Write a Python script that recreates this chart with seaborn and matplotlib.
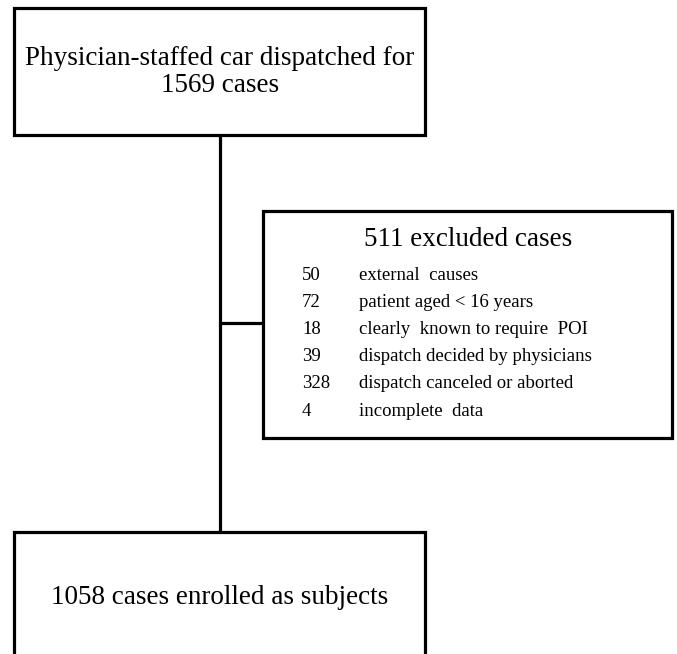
import matplotlib
matplotlib.use("Agg")
import matplotlib.pyplot as plt
import matplotlib.patches as patches
import seaborn as sns

# flowchart content
top_text = "Physician-staffed car dispatched for\n1569 cases"
excluded_title = "511 excluded cases"
excluded_counts = ["50", "72", "18", "39", "328", "4"]
excluded_reasons = ["external  causes",
                    "patient aged < 16 years",
                    "clearly  known to require  POI",
                    "dispatch decided by physicians",
                    "dispatch canceled or aborted",
                    "incomplete  data"]
bottom_text = "1058 cases enrolled as subjects"

sns.set_theme(style="white")
plt.rcParams['font.family'] = ['Liberation Serif', 'DejaVu Serif']
plt.rcParams['text.color'] = "black"

fig = plt.figure(figsize=(6.77, 6.54), dpi=100)
ax = fig.add_axes([0, 0, 1, 1])
ax.set_xlim(0, 677)
ax.set_ylim(654, 0)
ax.axis("off")

lw = 2.3

def box(x0, y0, x1, y1, bottom=True):
    if bottom:
        ax.add_patch(patches.Rectangle((x0, y0), x1 - x0, y1 - y0, fill=False,
                                       edgecolor="black", linewidth=lw))
    else:
        ax.plot([x0, x0, x1, x1], [y1, y0, y0, y1], color="black", linewidth=lw,
                solid_joinstyle="miter")

# boxes
box(14, 8, 425, 135)
box(263, 211, 672, 438)
box(14, 532, 425, 660, bottom=False)

# connectors
ax.plot([220, 220], [135, 532], color="black", linewidth=lw)
sns.lineplot(x=[220, 263], y=[323, 323], color="black", linewidth=lw,
             estimator=None, sort=False, ax=ax)

# texts
ax.text(220, 72, top_text, ha="center", va="center", fontsize=19.5, linespacing=1.08)
ax.text(468, 240, excluded_title, ha="center", va="center", fontsize=19.5)
for i, (n, r) in enumerate(zip(excluded_counts, excluded_reasons)):
    y = 275 + i * 27.2
    ax.text(302, y, n, ha="left", va="center", fontsize=13.5)
    ax.text(359, y, r, ha="left", va="center", fontsize=13.5)
ax.text(220, 597, bottom_text, ha="center", va="center", fontsize=19.5)

fig.savefig("out.png", dpi=100)
